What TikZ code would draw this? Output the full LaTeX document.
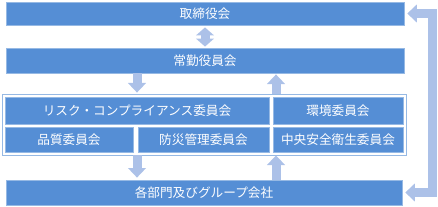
\documentclass[tikz,border=0pt]{standalone}
\usepackage{fontspec}
\newfontfamily\jpfont{Noto Sans CJK JP}
\usetikzlibrary{arrows.meta}
\definecolor{boxblue}{RGB}{85,142,213}
\definecolor{edgeblue}{RGB}{150,185,228}
\definecolor{arrowblue}{RGB}{172,193,232}
\tikzset{
  bx/.style={draw=edgeblue, line width=0.6pt, fill=boxblue, text=white, inner sep=0pt,
    font=\jpfont\fontsize{9}{11}\selectfont},
  flow/.style={draw=arrowblue, line width=0.225cm,
    arrows={-Triangle[width=0.44cm,length=0.24cm]}}
}
\begin{document}
\begin{tikzpicture}[x=0.025cm,y=-0.025cm]
\useasboundingbox (0,0) rectangle (438,206);

\node[bx, minimum width=9.95cm, minimum height=0.575cm] (torishimari) at (205,13.5) {取締役会};
\node[bx, minimum width=9.95cm, minimum height=0.625cm] (jokin) at (205,60.5) {常勤役員会};

\node[draw=edgeblue, line width=0.6pt, fill=white, minimum width=10.1cm, minimum height=1.525cm] (frame) at (204,124.5) {};
\node[bx, minimum width=6.6cm, minimum height=0.675cm] (risk) at (137,110.5) {リスク・コンプライアンス委員会};
\node[bx, minimum width=3.25cm, minimum height=0.675cm] (kankyo) at (338,110.5) {環境委員会};
\node[bx, minimum width=3.2cm, minimum height=0.625cm] (hinshitsu) at (69,139.5) {品質委員会};
\node[bx, minimum width=3.275cm, minimum height=0.625cm] (bosai) at (203.5,139.5) {防災管理委員会};
\node[bx, minimum width=3.25cm, minimum height=0.625cm] (chuo) at (338,139.5) {中央安全衛生委員会};

\node[bx, minimum width=9.9cm, minimum height=0.625cm] (kakubu) at (204,192.5) {各部門及びグループ会社};

% arrow columns
\coordinate (lft) at (137,0);
\coordinate (rgt) at (276,0);
\coordinate (rback) at (432,0);

\draw[flow, arrows={Triangle[width=0.44cm,length=0.2cm]-Triangle[width=0.44cm,length=0.2cm]},
  shorten <=1.4pt, shorten >=0.7pt] (torishimari) -- (jokin);
\draw[flow, shorten >=0.7pt] (jokin.south -| lft) -- (frame.north -| lft);
\draw[flow, shorten >=0.7pt] (frame.north -| rgt) -- (jokin.south -| rgt);
\draw[flow, shorten >=1.4pt] (frame.south -| lft) -- (kakubu.north -| lft);
\draw[flow] (kakubu.north -| rgt) -- (frame.south -| rgt);

% feedback to the board
\draw[flow, arrows={Triangle[width=0.44cm,length=0.24cm]-Triangle[width=0.44cm,length=0.24cm]},
  shorten <=2pt, shorten >=2pt]
  (kakubu.east) -- (kakubu.east -| rback) -- (torishimari.east -| rback) -- (torishimari.east);
\end{tikzpicture}
\end{document}
